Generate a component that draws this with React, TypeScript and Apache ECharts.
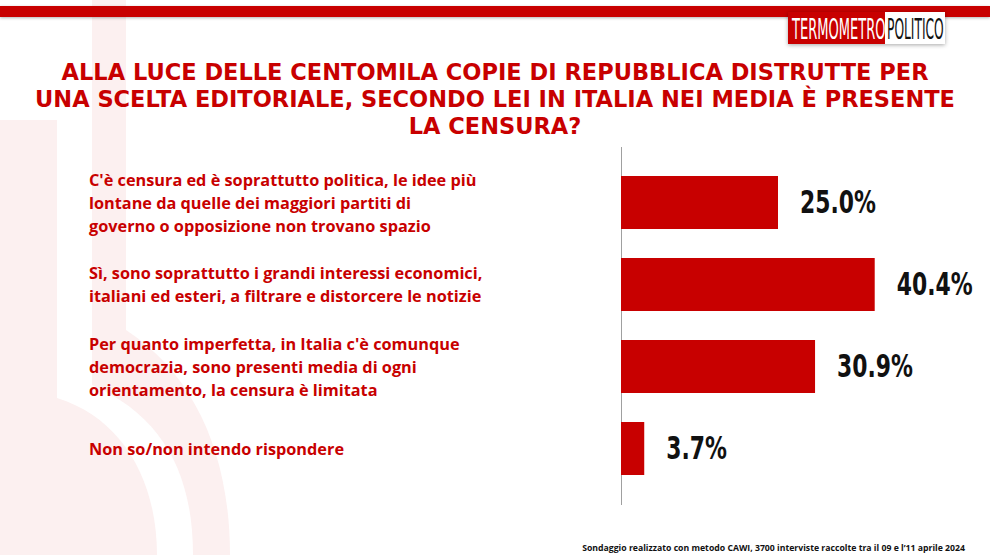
import React, { useEffect, useRef } from "react";
import * as echarts from "echarts";

const categories = [
  "C'è censura ed è soprattutto politica, le idee più\nlontane da quelle dei maggiori partiti di\ngoverno o opposizione non trovano spazio",
  "Sì, sono soprattutto i grandi interessi economici,\nitaliani ed esteri, a filtrare e distorcere le notizie",
  "Per quanto imperfetta, in Italia c'è comunque\ndemocrazia, sono presenti media di ogni\norientamento, la censura è limitata",
  "Non so/non intendo rispondere",
];
const values = [25.0, 40.4, 30.9, 3.7];
const titleText =
  "ALLA LUCE DELLE CENTOMILA COPIE DI REPUBBLICA DISTRUTTE PER\nUNA SCELTA EDITORIALE, SECONDO LEI IN ITALIA NEI MEDIA È PRESENTE\nLA CENSURA?";
const footerText =
  "Sondaggio realizzato con metodo CAWI, 3700 interviste raccolte tra il 09 e l’11 aprile 2024";

const RED = "#c80000";
const PINK = "#fcf0f0";
const COND = "'DejaVu Sans Condensed', 'DejaVu Sans', sans-serif";

echarts.graphic.registerShape(
  "wmStem",
  echarts.graphic.extendPath(
    "M92,0 L126,0 L126,330 C195,375 230,455 230,555 L193,555 C193,470 160,415 92,385 Z",
    {}
  )
);
echarts.graphic.registerShape(
  "wmBowl",
  echarts.graphic.extendPath(
    "M0,120 L57,120 L57,398 C122,418 157,480 157,555 L0,555 Z",
    {}
  )
);

export default function App() {
  const ref = useRef<HTMLDivElement>(null);
  useEffect(() => {
    if (!ref.current) return;
    const chart = echarts.init(ref.current, null, { renderer: "svg" });
    chart.setOption({
      animation: false,
      backgroundColor: "#ffffff",
      title: {
        text: titleText,
        left: "center",
        top: 53,
        textStyle: {
          fontFamily: "'DejaVu Sans', sans-serif",
          fontWeight: "bold",
          fontSize: 22.5,
          lineHeight: 27,
          color: RED,
        },
      },
      grid: { left: 621, top: 161.5, width: 314, height: 328, containLabel: false },
      xAxis: { type: "value", min: 0, max: 50, show: false },
      yAxis: {
        type: "category",
        data: categories,
        inverse: true,
        axisLine: { show: false },
        axisTick: { show: false },
        axisLabel: {
          align: "left",
          margin: 532,
          color: RED,
          fontFamily: "'Open Sans', 'DejaVu Sans', sans-serif",
          fontWeight: "bold",
          fontSize: 16.3,
          lineHeight: 23,
        },
      },
      series: [
        {
          type: "bar",
          data: values,
          barWidth: 53,
          itemStyle: { color: RED },
        },
        {
          type: "custom",
          data: values.map((v, i) => [v, i]),
          encode: { x: 0, y: 1 },
          z: 5,
          renderItem: (params: any, api: any) => {
            const v = api.value(0);
            const p = api.coord([v, api.value(1)]);
            return {
              type: "text",
              x: p[0] + 22,
              y: p[1],
              scaleX: 0.76,
              style: {
                text: v.toFixed(1) + "%",
                fill: "#111111",
                fontFamily: COND,
                fontWeight: "bold",
                fontSize: 32,
                align: "left",
                verticalAlign: "middle",
              },
            };
          },
        },
      ],
      graphic: [
        { type: "wmStem", z: -10, silent: true, style: { fill: PINK } },
        { type: "wmBowl", z: -10, silent: true, style: { fill: PINK } },
        {
          type: "rect",
          shape: { x: 0, y: 6, width: 990, height: 11 },
          style: { fill: RED, shadowBlur: 3, shadowColor: "rgba(0,0,0,0.3)", shadowOffsetY: 1 },
        },
        {
          type: "rect",
          shape: { x: 788, y: 12, width: 157, height: 32 },
          style: { fill: "#ffffff", shadowBlur: 4, shadowColor: "rgba(0,0,0,0.35)", shadowOffsetY: 1 },
        },
        {
          type: "rect",
          shape: { x: 788, y: 12, width: 97, height: 32 },
          style: { fill: RED },
        },
        {
          type: "text",
          x: 792,
          y: 29,
          scaleX: 0.5,
          style: {
            text: "TERMOMETRO",
            fill: "#ffffff",
            fontFamily: COND,
            fontSize: 29,
            verticalAlign: "middle",
            align: "left",
          },
        },
        {
          type: "text",
          x: 887,
          y: 29,
          scaleX: 0.47,
          style: {
            text: "POLITICO",
            fill: "#111111",
            fontFamily: COND,
            fontSize: 29,
            verticalAlign: "middle",
            align: "left",
          },
        },
        {
          type: "line",
          shape: { x1: 621.5, y1: 147, x2: 621.5, y2: 505 },
          style: { stroke: "#a0a0a0", lineWidth: 1 },
        },
        {
          type: "text",
          x: 965,
          y: 548,
          style: {
            text: footerText,
            fill: "#111111",
            fontFamily: "'Open Sans', 'DejaVu Sans', sans-serif",
            fontWeight: "bold",
            fontSize: 8.7,
            align: "right",
            verticalAlign: "middle",
          },
        },
      ],
    });
    return () => chart.dispose();
  }, []);
  return (
    <div
      ref={ref}
      style={{ position: "fixed", left: 0, top: 0, width: 990, height: 555 }}
    />
  );
}
